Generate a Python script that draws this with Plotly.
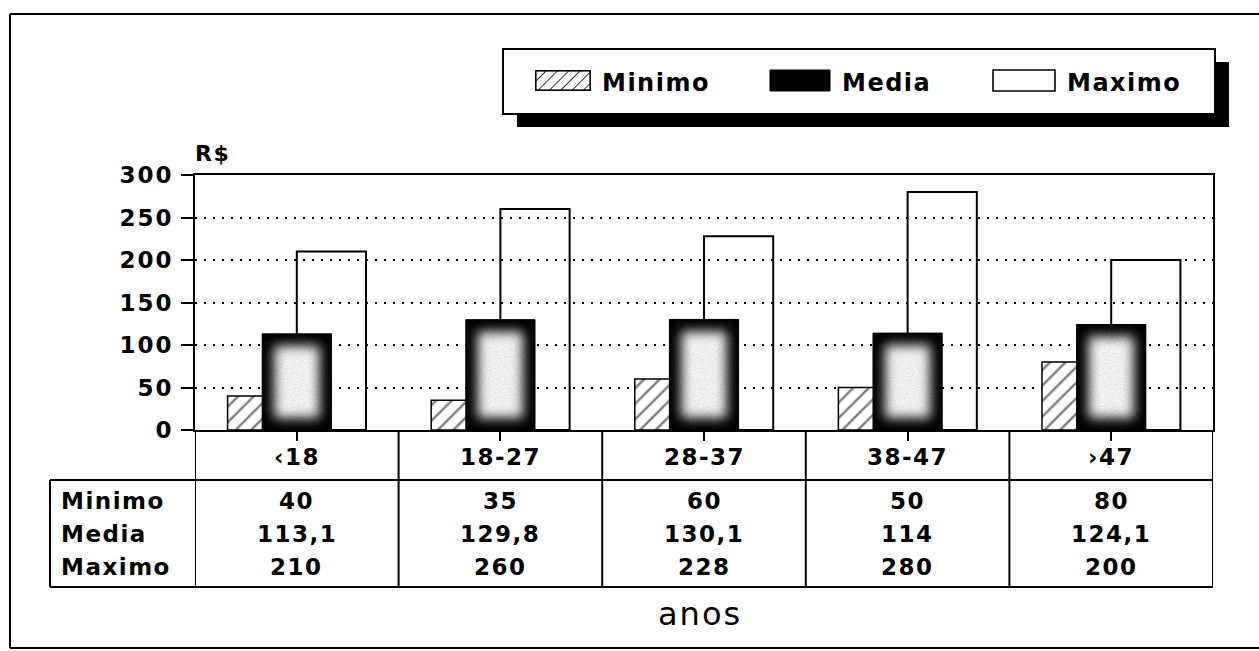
import base64
import plotly.graph_objects as go

# ---- data ----
categories = ["‹18", "18-27", "28-37", "38-47", "›47"]
minimo = [40, 35, 60, 50, 80]
media = [113.1, 129.8, 130.1, 114, 124.1]
maximo = [210, 260, 228, 280, 200]
series_names = ["Minimo", "Media", "Maximo"]
y_ticks = [0, 50, 100, 150, 200, 250, 300]

W, H = 1259, 651
FONT = "DejaVu Sans"


def px(x):
    return x / W


def py(y):
    return 1 - y / H


def fmt(v):
    return f"{v:g}".replace(".", ",")


def spaced(text, ls):
    return f'<span style="letter-spacing:{ls}px">{text}</span>'


# plot area in pixels
X0, X1, Y0, Y1 = 195, 1213, 175, 430
YMAX = 300
BW = 0.34  # bar width in category units

x_idx = list(range(len(categories)))

fig = go.Figure()

# hatched minimum bars, drawn first so the others overlap them
fig.add_trace(go.Bar(
    x=x_idx, y=minimo, width=BW, offset=-BW, name="Minimo",
    marker=dict(color="white", line=dict(color="black", width=1.5),
                pattern=dict(shape="/", fgcolor="black", bgcolor="white",
                             size=11, solidity=0.22)),
    showlegend=False,
))
# hollow maximum bars
fig.add_trace(go.Bar(
    x=x_idx, y=maximo, width=BW, offset=0, name="Maximo",
    marker=dict(color="rgba(0,0,0,0)", line=dict(color="black", width=2)),
    showlegend=False,
))
# mean bars on top
fig.add_trace(go.Bar(
    x=x_idx, y=media, width=BW, offset=-BW / 2, name="Media",
    marker=dict(color="black", line=dict(color="black", width=1)),
    showlegend=False,
))


def glow_svg(w, h, inset=12, blur=6):
    svg = (
        f'<svg xmlns="http://www.w3.org/2000/svg" width="{w:.1f}" height="{h:.1f}" '
        f'viewBox="0 0 {w:.1f} {h:.1f}" preserveAspectRatio="none">'
        '<defs><filter id="b" x="-50%" y="-50%" width="200%" height="200%">'
        f'<feGaussianBlur stdDeviation="{blur}"/></filter>'
        '<filter id="n"><feTurbulence type="fractalNoise" baseFrequency="0.9" numOctaves="2" seed="3"/>'
        '<feColorMatrix type="matrix" values="0 0 0 0 0  0 0 0 0 0  0 0 0 0 0  0 0 0 0.22 -0.06"/></filter>'
        '</defs>'
        f'<rect width="{w:.1f}" height="{h:.1f}" fill="#000"/>'
        f'<rect x="{inset}" y="{inset}" width="{max(w - 2 * inset, 1):.1f}" '
        f'height="{max(h - 2 * inset, 1):.1f}" fill="#fbfbfb" filter="url(#b)"/>'
        f'<rect width="{w:.1f}" height="{h:.1f}" filter="url(#n)"/>'
        '</svg>'
    )
    return "data:image/svg+xml;base64," + base64.b64encode(svg.encode()).decode()


images = []
px_per_cat = (X1 - X0) / len(categories)
px_per_unit = (Y1 - Y0) / YMAX
for i, v in enumerate(media):
    images.append(dict(
        source=glow_svg(BW * px_per_cat, v * px_per_unit), xref="x", yref="y",
        x=i, y=v, sizex=BW, sizey=v, xanchor="center", yanchor="top",
        sizing="stretch", layer="above",
    ))

# hatched legend swatch
hatch_svg = (
    '<svg xmlns="http://www.w3.org/2000/svg" width="56" height="21" viewBox="0 0 56 21" '
    'preserveAspectRatio="none"><defs><pattern id="p" width="8" height="8" '
    'patternUnits="userSpaceOnUse" patternTransform="rotate(45)">'
    '<line x1="0" y1="0" x2="0" y2="8" stroke="#000" stroke-width="1.6"/></pattern></defs>'
    '<rect width="56" height="21" fill="#fff"/><rect width="56" height="21" fill="url(#p)"/>'
    '<rect x="0.8" y="0.8" width="54.4" height="19.4" fill="none" stroke="#000" stroke-width="1.6"/>'
    '</svg>'
)
images.append(dict(
    source="data:image/svg+xml;base64," + base64.b64encode(hatch_svg.encode()).decode(),
    xref="paper", yref="paper", x=px(535), y=py(70), sizex=px(591) - px(535),
    sizey=py(70) - py(91), xanchor="left", yanchor="top", sizing="stretch", layer="above",
))

shapes = []
line = dict(color="black", width=2)

# outer frame
shapes += [
    dict(type="line", xref="paper", yref="paper", x0=px(10), x1=px(1259), y0=py(14), y1=py(14), line=line),
    dict(type="line", xref="paper", yref="paper", x0=px(10), x1=px(10), y0=py(14), y1=py(648), line=line),
    dict(type="line", xref="paper", yref="paper", x0=px(10), x1=px(1259), y0=py(648), y1=py(648), line=line),
]

# legend box with drop shadow (kept under the swatch image)
shapes += [
    dict(type="rect", xref="paper", yref="paper", x0=px(517), x1=px(1229), y0=py(62), y1=py(127),
         fillcolor="black", line=dict(width=0), layer="below"),
    dict(type="rect", xref="paper", yref="paper", x0=px(503), x1=px(1215), y0=py(49), y1=py(114),
         fillcolor="white", line=line, layer="below"),
    dict(type="rect", xref="paper", yref="paper", x0=px(770), x1=px(830), y0=py(70), y1=py(91),
         fillcolor="black", line=dict(color="black", width=1)),
    dict(type="rect", xref="paper", yref="paper", x0=px(993), x1=px(1055), y0=py(70), y1=py(91),
         fillcolor="white", line=dict(color="black", width=1.6)),
]

# data table grid
T_TOP, T_BOT, T_LEFT = 480, 587, 50
for k in range(len(categories) + 1):
    shapes.append(dict(type="line", xref="x", yref="paper", x0=k - 0.5, x1=k - 0.5,
                       y0=py(Y1), y1=py(T_BOT), line=line))
shapes += [
    dict(type="line", xref="paper", yref="paper", x0=px(T_LEFT), x1=px(X1), y0=py(T_TOP), y1=py(T_TOP), line=line),
    dict(type="line", xref="paper", yref="paper", x0=px(T_LEFT), x1=px(X1), y0=py(T_BOT), y1=py(T_BOT), line=line),
    dict(type="line", xref="paper", yref="paper", x0=px(T_LEFT), x1=px(T_LEFT), y0=py(T_TOP), y1=py(T_BOT), line=line),
]

annotations = []
bold = dict(family=FONT, size=23, color="black", weight="bold")
LS = 1.5

# legend labels
for name, xl in zip(series_names, [600, 840, 1065]):
    annotations.append(dict(text=spaced(name, LS), xref="paper", yref="paper", x=px(xl), y=py(83),
                            xanchor="left", yanchor="middle", showarrow=False,
                            font=dict(family=FONT, size=24, color="black", weight="bold")))

# unit label
annotations.append(dict(text=spaced("R$", 1.5), xref="paper", yref="paper", x=px(193), y=py(153),
                        xanchor="left", yanchor="middle", showarrow=False,
                        font=dict(family=FONT, size=22, color="black", weight="bold")))

# category row
for i, c in enumerate(categories):
    annotations.append(dict(text=spaced(c, LS), xref="x", yref="paper", x=i, y=py(457),
                            xanchor="center", yanchor="middle", showarrow=False, font=bold))

# table rows
row_y = [501, 534, 567]
for name, vals, ry in zip(series_names, [minimo, media, maximo], row_y):
    annotations.append(dict(text=spaced(name, LS), xref="paper", yref="paper", x=px(59), y=py(ry),
                            xanchor="left", yanchor="middle", showarrow=False, font=bold))
    for i, v in enumerate(vals):
        annotations.append(dict(text=spaced(fmt(v), LS), xref="x", yref="paper", x=i, y=py(ry),
                                xanchor="center", yanchor="middle", showarrow=False, font=bold))

# axis title below the table
annotations.append(dict(text=spaced("anos", 2), xref="paper", yref="paper", x=px(700), y=py(614),
                        xanchor="center", yanchor="middle", showarrow=False,
                        font=dict(family=FONT, size=32, color="black")))

fig.update_layout(
    width=W, height=H, margin=dict(l=0, r=0, t=0, b=0, autoexpand=False),
    paper_bgcolor="white", plot_bgcolor="white",
    barmode="overlay", showlegend=False,
    font=dict(family=FONT, color="black"),
    xaxis=dict(domain=[px(X0), px(X1)], range=[-0.5, len(categories) - 0.5],
               tickvals=x_idx, showticklabels=False, ticks="outside", ticklen=9,
               tickwidth=1.5, tickcolor="black", showline=True, linecolor="black",
               linewidth=2, mirror=True, showgrid=False, zeroline=False,
               automargin=False, fixedrange=True),
    yaxis=dict(domain=[py(Y1), py(Y0)], range=[0, YMAX], tickvals=y_ticks,
               ticktext=[spaced(str(t), 2) for t in y_ticks], ticklabelstandoff=3,
               ticks="outside", ticklen=12, tickwidth=2, tickcolor="black",
               showline=True, linecolor="black", linewidth=2, mirror=True,
               showgrid=True, gridcolor="black", gridwidth=2, griddash="2px,7px",
               zeroline=False, tickfont=dict(family=FONT, size=23, weight="bold"),
               automargin=False, fixedrange=True),
    shapes=shapes, annotations=annotations, images=images,
)

fig.write_html("out.html")
